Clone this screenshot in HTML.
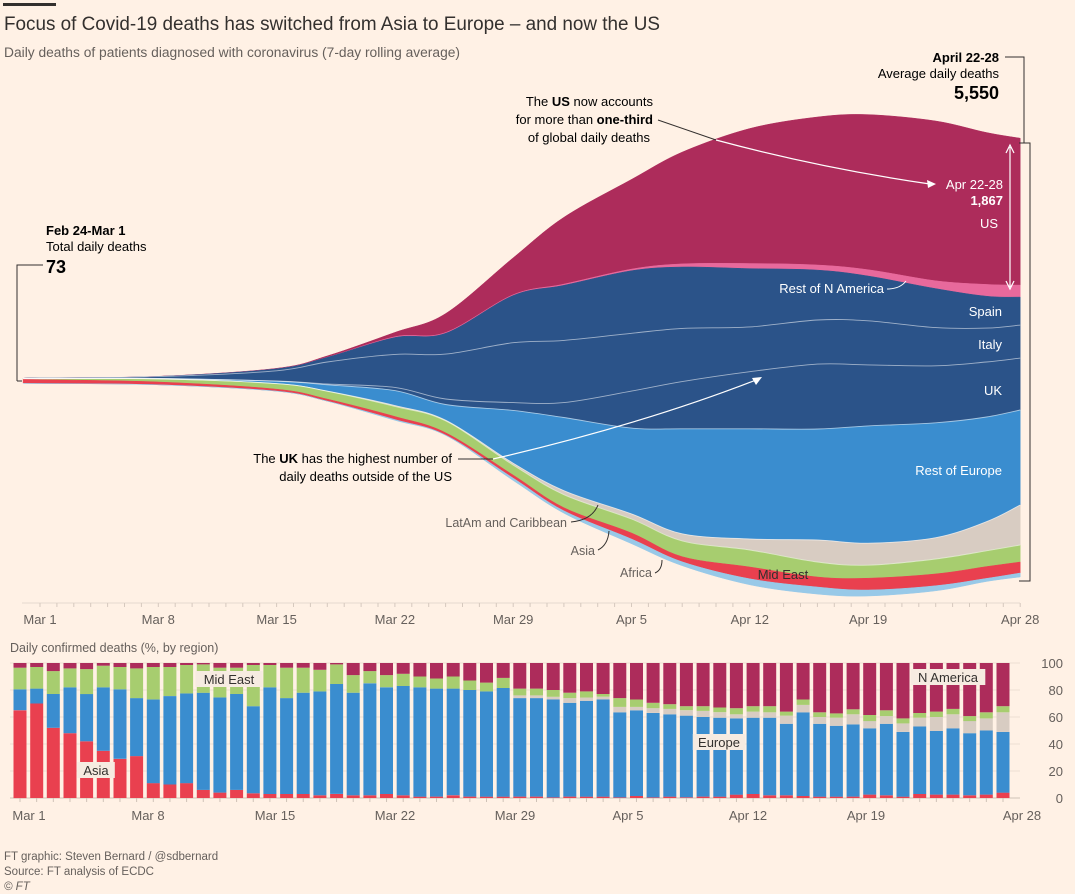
<!DOCTYPE html>
<html><head><meta charset="utf-8">
<style>
html,body{margin:0;padding:0;background:#fff1e5;}
body{width:1075px;height:894px;overflow:hidden;position:relative;font-family:"Liberation Sans",sans-serif;color:#33302e;}
svg{position:absolute;left:0;top:0;}
text{font-family:"Liberation Sans",sans-serif;}
</style></head>
<body>
<svg id="chart" width="1075" height="894" viewBox="0 0 1075 894" xmlns="http://www.w3.org/2000/svg">
<rect x="3" y="3" width="53" height="3" fill="#33302e"/>
<text x="4" y="30" font-size="19" fill="#33302e" textLength="656" lengthAdjust="spacingAndGlyphs">Focus of Covid-19 deaths has switched from Asia to Europe – and now the US</text>
<text x="4" y="57" font-size="13.5" fill="#66605c" textLength="456" lengthAdjust="spacingAndGlyphs">Daily deaths of patients diagnosed with coronavirus (7-day rolling average)</text>
<g id="stream"></g>
<g id="annot">
<path d="M17,381 L17,265 L43,265 M17,381 L22,381" fill="none" stroke="#33302e" stroke-width="1"/>
<text x="46" y="235" font-size="13" font-weight="bold">Feb 24-Mar 1</text>
<text x="46" y="251" font-size="13">Total daily deaths</text>
<text x="46" y="273" font-size="18" font-weight="bold">73</text>
<text x="999" y="62" font-size="13" font-weight="bold" text-anchor="end">April 22-28</text>
<text x="999" y="78" font-size="13" text-anchor="end">Average daily deaths</text>
<text x="999" y="99" font-size="18" font-weight="bold" text-anchor="end">5,550</text>
<path d="M1005,57 L1024,57 L1024,143 M1019,143 L1030,143 L1030,581 L1019,581" fill="none" stroke="#33302e" stroke-width="1"/>
<text x="653" y="106" font-size="13" text-anchor="end">The <tspan font-weight="bold">US</tspan> now accounts</text>
<text x="653" y="124" font-size="13" text-anchor="end">for more than <tspan font-weight="bold">one-third</tspan></text>
<text x="650" y="142" font-size="13" text-anchor="end">of global daily deaths</text>
<path d="M658,120 L716,140" stroke="#33302e" fill="none"/>
<path d="M716,140 Q820,168 930,184" stroke="#fff" fill="none" stroke-width="1.2"/>
<path d="M936,184 L927,180 L928,188 Z" fill="#fff"/>
<text x="1003" y="189" font-size="13" fill="#fff" text-anchor="end">Apr 22-28</text>
<text x="1003" y="205" font-size="13" fill="#fff" font-weight="bold" text-anchor="end">1,867</text>
<text x="998" y="228" font-size="13" fill="#fff" text-anchor="end">US</text>
<path d="M1010,147 L1010,287 M1006,153 L1010,145 L1014,153 M1006,281 L1010,289 L1014,281" stroke="#fff" fill="none" stroke-width="1.2"/>
<text x="884" y="293" font-size="13" fill="#fff" text-anchor="end">Rest of N America</text>
<path d="M887,289 Q900,289 906,281" stroke="#fff" fill="none"/>
<text x="1002" y="316" font-size="13" fill="#fff" text-anchor="end">Spain</text>
<text x="1002" y="349" font-size="13" fill="#fff" text-anchor="end">Italy</text>
<text x="1002" y="395" font-size="13" fill="#fff" text-anchor="end">UK</text>
<text x="1002" y="475" font-size="13" fill="#fff" text-anchor="end">Rest of Europe</text>
<text x="452" y="463" font-size="13" text-anchor="end">The <tspan font-weight="bold">UK</tspan> has the highest number of</text>
<text x="452" y="481" font-size="13" text-anchor="end">daily deaths outside of the US</text>
<path d="M458,459 L493,459" stroke="#33302e" fill="none"/>
<path d="M493,459 Q640,425 756,380" stroke="#fff" fill="none" stroke-width="1.2"/>
<path d="M762,377 L752,378 L756,385 Z" fill="#fff"/>
<text x="567" y="527" font-size="12.5" fill="#66605c" text-anchor="end">LatAm and Caribbean</text>
<path d="M571,522 Q592,520 598,505" stroke="#33302e" fill="none"/>
<text x="595" y="555" font-size="12.5" fill="#66605c" text-anchor="end">Asia</text>
<path d="M598,550 Q608,545 609,531" stroke="#33302e" fill="none"/>
<text x="652" y="577" font-size="12.5" fill="#66605c" text-anchor="end">Africa</text>
<path d="M655,573 Q662,570 662,560" stroke="#33302e" fill="none"/>
<text x="783" y="579" font-size="13" fill="#33302e" text-anchor="middle">Mid East</text>
</g>
<g id="bars"></g>
<text x="10" y="652" font-size="12.5" fill="#66605c">Daily confirmed deaths (%, by region)</text>
<text x="4" y="860" font-size="11.5" fill="#66605c">FT graphic: Steven Bernard / @sdbernard</text>
<text x="4" y="875" font-size="11.5" fill="#66605c">Source: FT analysis of ECDC</text>
<text x="4" y="890" font-size="11.5" fill="#66605c" font-style="italic">© FT</text>
</svg>
<script>
// ---- Stream graph data (daily deaths, 7-day avg) ----
const streamDays = [-1,0,7,14,17,21,24,28,31,35,38,42,46,49,53,56,58];
const usDeaths     = [1,1,1,5,15,55,240,470,850,1140,1420,1715,1880,1970,2030,1930,1867];
const restNADeaths = [0,0,0,1,2,10,10,10,15,20,40,65,65,80,100,150,152];
const spainDeaths  = [0,0,2,25,60,215,265,600,700,795,780,740,635,570,495,405,356];
const italyDeaths  = [3,7,25,130,280,420,570,760,790,735,675,570,560,560,485,430,419];
const ukDeaths     = [0,0,0,3,10,40,70,100,190,470,600,725,825,775,725,700,660];
const restEuDeaths = [1,2,4,30,80,190,200,670,930,1090,1335,1400,1410,1490,1460,1330,1207];
const latamDeaths  = [0,0,0,1,2,12,8,25,50,65,90,140,280,280,270,370,508];
const mideastDeaths= [8,12,40,70,100,127,150,127,165,178,200,216,190,165,190,200,216];
const asiaDeaths   = [50,50,35,25,25,38,30,38,40,76,65,150,127,150,150,150,140];
const africaDeaths = [0,0,0,1,2,10,5,30,30,60,50,76,90,76,65,40,50];
const tickLabels = ["Mar 1","Mar 8","Mar 15","Mar 22","Mar 29","Apr 5","Apr 12","Apr 19","Apr 28"];
const tickDays = [0,7,14,21,28,35,42,49,58];

// ---- Bar chart data (% of daily deaths, cumulative tops) ----
const barAsia = [65,70,52,48,42,35,29,31,11,10,11,6,4,6,3.5,3,3,3,2,3,2,2,3,2,1,1,2,1,1,1,1,
 1,0.5,1,1,1,0.5,1.5,0.5,1,0.5,1,1,2.5,3,2,2,1.5,1,1,1,2.5,2,1,3,2.5,2.5,2,2.5,4];
const barEuropeCum = [80.5,81,77,82,77,82,80.5,74,73,75.5,77.5,78,74.5,77,68,82,74,78,79,84.5,78,85,82,83,82,81,81,80,79,81.5,74,
 74,73,70.5,72,73,63.5,65,63,62,61,60,59.5,59,59.5,59.5,55,63.5,55,53.5,54.5,51.6,55,49,53,49.6,51.6,48,50,49];
const barLatamCum = [80.5,81,77,82,77,82,80.5,74,73,75.5,77.5,78,74.5,77,68,82,74,78,79,84.5,78,85,82,83,82,81,81,80,79,81.5,76,
 76,75,74,74.5,75,67.5,67.5,66.5,66,65,64.5,63.5,62,64,63.5,61,69,60,59.5,62,57,60.7,55.3,59.5,60,62,57,59,63.5];
const barMideastCum = [96.5,97,94,96,95.5,98,97,96,97,97,98.5,99,96.5,96.5,98.5,98.5,96.5,96.5,95,99,91,94,91,92,90,88.5,90,87,85.5,89,81,
 81,80,78,79,77,74,73,70.5,69.5,68,68,67,66.5,68,68,64,73,63.5,62.7,65.7,61.5,65,59,63,64,66,60.7,63.5,68];
const barTicks = [0,20,40,60,80,100];

const NS = "http://www.w3.org/2000/svg";
function mk(tag, attrs, parent){const e=document.createElementNS(NS,tag);for(const k in attrs)e.setAttribute(k,attrs[k]);parent.appendChild(e);return e;}

const xDay = d => 40 + 16.9*d;
const kPx = 0.0787;
const yDeaths = v => v*kPx;
const layers = [
 {name:"us",vals:usDeaths,col:"#ad2c5b"},
 {name:"rest-of-n-america",vals:restNADeaths,col:"#e8699c"},
 {name:"spain",vals:spainDeaths,col:"#2b5389"},
 {name:"italy",vals:italyDeaths,col:"#2b5389"},
 {name:"uk",vals:ukDeaths,col:"#2b5389"},
 {name:"rest-of-europe",vals:restEuDeaths,col:"#3a8dcf"},
 {name:"latam",vals:latamDeaths,col:"#d8ccc2"},
 {name:"mid-east",vals:mideastDeaths,col:"#a7cd6f"},
 {name:"asia",vals:asiaDeaths,col:"#e9404f"},
 {name:"africa",vals:africaDeaths,col:"#98c9e8"}
];
const n = streamDays.length;
const bounds = [];
for(let i=0;i<n;i++){
  let tot=0; layers.forEach(l=>tot+=l.vals[i]);
  const center = 381 - 0.0042*tot;
  let y = center - yDeaths(tot)/2;
  layers.forEach((l,j)=>{ if(!bounds[j])bounds[j]=[]; bounds[j][i]=y; y+=yDeaths(l.vals[i]); });
  if(!bounds[layers.length])bounds[layers.length]=[];
  bounds[layers.length][i]=y;
}
function smoothPath(xs, ys, reverse){
  let px=xs.slice(), py=ys.slice();
  if(reverse){px.reverse();py.reverse();}
  let d = "";
  for(let i=0;i<px.length-1;i++){
    const x0=px[Math.max(0,i-1)],y0=py[Math.max(0,i-1)];
    const x1=px[i],y1=py[i],x2=px[i+1],y2=py[i+1];
    const x3=px[Math.min(px.length-1,i+2)],y3=py[Math.min(px.length-1,i+2)];
    const c1x=x1+(x2-x0)/6,c1y=y1+(y2-y0)/6,c2x=x2-(x3-x1)/6,c2y=y2-(y3-y1)/6;
    d += `C${c1x.toFixed(1)},${c1y.toFixed(1)} ${c2x.toFixed(1)},${c2y.toFixed(1)} ${x2.toFixed(1)},${y2.toFixed(1)} `;
  }
  return d;
}
const xs = streamDays.map(xDay);
const sg = document.getElementById("stream");
layers.forEach((l,j)=>{
  const top=bounds[j], bot=bounds[j+1];
  const d = `M${xs[0]},${top[0]} ` + smoothPath(xs,top,false) + `L${xs[n-1]},${bot[n-1]} ` + smoothPath(xs,bot,true) + "Z";
  const p = mk("path",{d:d,fill:l.col,stroke:l.col,"stroke-width":"0.5"},sg);
  
  
});
[3,4,5,6,7].forEach(j=>{
  const p = mk("path",{d:`M${xs[0]},${bounds[j][0]} `+smoothPath(xs,bounds[j],false),fill:"none",stroke:"rgba(255,255,255,0.55)","stroke-width":"0.9"},sg);
  
  
});
const ta = mk("g",{},sg);


mk("line",{x1:22,x2:1020,y1:603,y2:603,stroke:"#e6d9ce"},ta);
for(let d=0;d<=58;d++){ mk("line",{x1:xDay(d),x2:xDay(d),y1:603,y2:607,stroke:"#d6c9be"},ta); }
tickDays.forEach((d,i)=>{
  const t = mk("text",{x:xDay(d),y:624,"font-size":"13","text-anchor":"middle",fill:"#66605c"},ta);
  t.textContent = tickLabels[i];
  
  
});

const bg = document.getElementById("bars");
const nb = barAsia.length;
const xBar = i => 20 + i*(983/(nb-1));
const yPct = p => 798 - p*1.35;
barTicks.forEach(t=>{
  const l = mk("line",{x1:10,x2:1020,y1:yPct(t),y2:yPct(t),stroke:t===0?"#cfc2b7":"#eee0d3"},bg);
  
  
  const tx = mk("text",{x:1063,y:yPct(t)+5,"font-size":"13","text-anchor":"end",fill:"#66605c"},bg);
  tx.textContent = t;
  
  
});
for(let i=0;i<nb;i++){
  const x = xBar(i)-6.5, w=13;
  const segs = [
    [0,barAsia[i],"#e9404f","asia"],
    [barAsia[i],barEuropeCum[i],"#3a8dcf","europe"],
    [barEuropeCum[i],barLatamCum[i],"#d8ccc2","latam"],
    [barLatamCum[i],barMideastCum[i],"#a7cd6f","mid-east"],
    [barMideastCum[i],100,"#ad2c5b","n-america"]
  ];
  segs.forEach(s=>{
    if(s[1]<=s[0])return;
    const r = mk("rect",{x:x.toFixed(1),y:yPct(s[1]).toFixed(1),width:w,height:(yPct(s[0])-yPct(s[1])).toFixed(1),fill:s[2]},bg);
    
    
  });
  mk("line",{x1:xBar(i),x2:xBar(i),y1:798,y2:802,stroke:"#cfc2b7"},bg);
}
const bLabels = [[29,"Mar 1"],[148,"Mar 8"],[275,"Mar 15"],[395,"Mar 22"],[515,"Mar 29"],[628,"Apr 5"],[748,"Apr 12"],[866,"Apr 19"],[1022,"Apr 28"]];
bLabels.forEach(b=>{
  const t = mk("text",{x:b[0],y:820,"font-size":"13","text-anchor":"middle",fill:"#66605c"},bg);
  t.textContent=b[1];
  
  
});
[[229,682,"Mid East"],[96,773,"Asia"],[719,745,"Europe"],[948,680,"N America"]].forEach(b=>{
  const w = b[2].length*7.4+8;
  const r = mk("rect",{x:b[0]-w/2,y:b[1]-11,width:w,height:16,fill:"#f6ebe1"},bg);
  
  
  const t = mk("text",{x:b[0],y:b[1]+2,"font-size":"13","text-anchor":"middle",fill:"#33302e"},bg);
  t.textContent=b[2];
  
  
});
const svg=document.getElementById("chart");
svg.appendChild(document.getElementById("annot"));
</script>
</body></html>
